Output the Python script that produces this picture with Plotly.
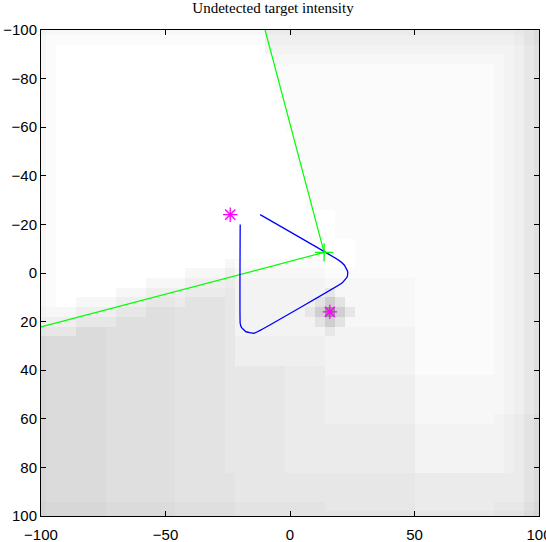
import plotly.graph_objects as go

title_text = "Undetected target intensity"

# Heatmap cells: centres every 4 units from -100 to 100 (51 x 51).
grid_start = -100
grid_step = 4
# Each character is a base-36 intensity level
# (0 = white, higher = darker). Row 0 is y = -100 (top).
intensity_rows = [
    "3222222222 2222222222 2225555555 5555555555 5555555567 9",
    "2111111111 1111111111 1114444444 4444444444 4444444457 9",
    "2100000000 0000000000 0003333333 3333333333 3333333346 8",
    "2100000000 0000000000 0000222222 2222222222 2222222346 8",
    "2100000000 0000000000 0000111111 1111111111 1111112346 8",
    "2100000000 0000000000 0000111111 1111111111 1111112346 8",
    "2100000000 0000000000 0000111111 1111111111 1111112346 8",
    "2100000000 0000000000 0000011111 1111111111 1111112346 8",
    "2100000000 0000000000 0000011111 1111111111 1111112346 8",
    "2100000000 0000000000 0000011111 1111111111 1111112346 8",
    "2100000000 0000000000 0000011111 1111111111 1111112346 8",
    "2100000000 0000000000 0000001111 1111111111 1111112346 8",
    "2100000000 0000000000 0000001111 1111111111 1111112346 8",
    "2100000000 0000000000 0000001111 1111111111 1111112346 8",
    "2100000000 0000000000 0000001111 1111111111 1111112346 8",
    "2100000000 0000000000 0000000111 1111111111 1111112346 8",
    "2100000000 0000000000 0000000111 1111111111 1111112346 8",
    "2100000000 0000000000 0000000111 1111111111 1111112346 8",
    "2100000000 0000000000 0000000111 1111111111 1111112346 8",
    "2100000000 0000000004 0000000000 1111111111 1111112346 8",
    "2100000000 0000000000 0000000000 1111111111 1111112346 8",
    "2100000000 0000000000 0000000000 1111111111 1111112346 8",
    "2100000000 0000000000 0000000000 0011111111 1111112346 8",
    "2100000000 0000000000 0000000000 0011111111 1111112346 8",
    "2100000000 0000000002 1111111110 0011111111 1111112346 8",
    "2100000000 0000022224 2222222221 1111111111 1111112346 8",
    "2100000000 0222244445 3333333332 2222222211 1111112346 8",
    "2100000022 2444455556 3333333336 2222222211 1111112346 8",
    "2100222244 4666577776 333333337c 7222222211 1111112346 8",
    "3222444466 6888777776 33333336cr c622222211 1111112346 8",
    "4444666688 8888777776 333333337c 7222222211 1111112346 8",
    "7666999888 8888777776 3333333336 3333333311 1111112346 8",
    "a999999888 8888777776 4444444443 3333333311 1111112346 8",
    "a999999888 8888777776 4444444443 3333333311 1111112346 8",
    "a999999888 8888777776 4444444443 3333333311 1111112346 8",
    "a999999888 8888777776 6666655553 3333333311 1111112346 8",
    "a999999888 8888777776 6666655554 4444444422 2222222346 8",
    "a999999888 8888777776 6666655554 4444444422 2222222346 8",
    "a999999888 8888777776 6666655554 4444444422 2222222346 8",
    "a999999888 8888777776 6666655554 4444444422 2222222346 8",
    "a999999888 8888777776 6666655554 4444444422 2222223457 9",
    "a999999888 8888777776 6666655555 5555555533 3333333457 9",
    "a999999888 8888777776 6666655555 5555555533 3333333457 9",
    "a999999888 8888777776 6666655555 5555555533 3333333457 9",
    "a999999888 8888777776 6666655555 5555555533 3333333457 9",
    "a999999888 8888777776 6666655555 5555555533 3333333457 9",
    "a999999888 8888777777 6666666666 6666666655 5555555557 9",
    "a999999888 8888777777 6666666666 6666666655 5555555557 9",
    "a999999888 8888777777 6666666666 6666666655 5555555557 9",
    "baaaaaa999 9999888888 7777777776 6666666655 5555556668 a",
    "baaaaaa999 9999888888 7777777777 7777777766 6666667779 b",
]

# Sensor and its field-of-view edges
sensor_x = [13.7]
sensor_y = [-8.5]
fov_end_x = [-10, -100]
fov_end_y = [-100, 22.2]

# Sensor path
path_x = [-12, 19.5, 21.8, 23.2, 23.0, 21.0, -11.8, -14.5, -17.8, -19.5, -20, -20]
path_y = [-24, -5.3, -3.3, -0.5, 1.5, 4.0, 23.5, 24.8, 24.1, 22.4, 20.7, -20]

# Targets
target_x = [-24, 16]
target_y = [-24, 16]

x_ticks = [-100, -50, 0, 50, 100]
y_ticks = [-100, -80, -60, -40, -20, 0, 20, 40, 60, 80, 100]

z = [[int(ch, 36) for ch in row.replace(" ", "")] for row in intensity_rows]
ncol = len(z[0])
for row in z:
    assert len(row) == ncol, len(row)
cell_x = [grid_start + grid_step * i for i in range(ncol)]
cell_y = [grid_start + grid_step * j for j in range(len(z))]

fig = go.Figure()
fig.add_trace(go.Heatmap(
    x=cell_x, y=cell_y, z=z, zmin=0, zmax=35,
    colorscale=[[0, "rgb(255,255,255)"], [1, "rgb(115,115,115)"]],
    showscale=False, hoverinfo="skip",
))

fov_x, fov_y = [], []
for ex, ey in zip(fov_end_x, fov_end_y):
    fov_x += [sensor_x[0], ex, None]
    fov_y += [sensor_y[0], ey, None]
fig.add_trace(go.Scatter(x=fov_x, y=fov_y, mode="lines",
                         line=dict(color="#00ff00", width=1.2), showlegend=False))
fig.add_trace(go.Scatter(x=path_x, y=path_y, mode="lines",
                         line=dict(color="#0000ff", width=1.3, shape="spline", smoothing=0.3),
                         showlegend=False))
fig.add_trace(go.Scatter(x=sensor_x, y=sensor_y, mode="markers",
                         marker=dict(symbol="cross-thin-open", size=13, color="#00ff00",
                                     line=dict(color="#00ff00", width=1.3)),
                         showlegend=False))
fig.add_trace(go.Scatter(x=target_x, y=target_y, mode="markers",
                         marker=dict(symbol="asterisk-open", size=12, color="#ff00ff",
                                     line=dict(color="#ff00ff", width=1.3)),
                         showlegend=False))

axis_common = dict(
    showgrid=False, zeroline=False, showline=True, mirror="ticks",
    linecolor="black", linewidth=1, ticks="inside", ticklen=5,
    tickcolor="black", tickwidth=1, automargin=False, ticklabeloverflow="allow",
    tickfont=dict(family="Liberation Sans", size=15, color="black"),
)
fig.update_xaxes(range=[-100, 100], tickvals=x_ticks, ticklabelstandoff=5, **axis_common)
fig.update_yaxes(range=[100, -100], tickvals=y_ticks, **axis_common)

fig.update_layout(
    width=546, height=542,
    margin=dict(l=41, r=7, t=30, b=26, autoexpand=False),
    paper_bgcolor="white", plot_bgcolor="white",
    title=dict(text=title_text, x=0.5, xanchor="center", y=1.0, yref="container",
               yanchor="top", pad=dict(t=2, b=0),
               font=dict(family="Liberation Serif", size=15, color="black")),
    showlegend=False,
)

fig.write_html("out.html", config={"displayModeBar": False},
               post_script="document.body.style.margin='0';document.body.style.overflow='hidden';")
